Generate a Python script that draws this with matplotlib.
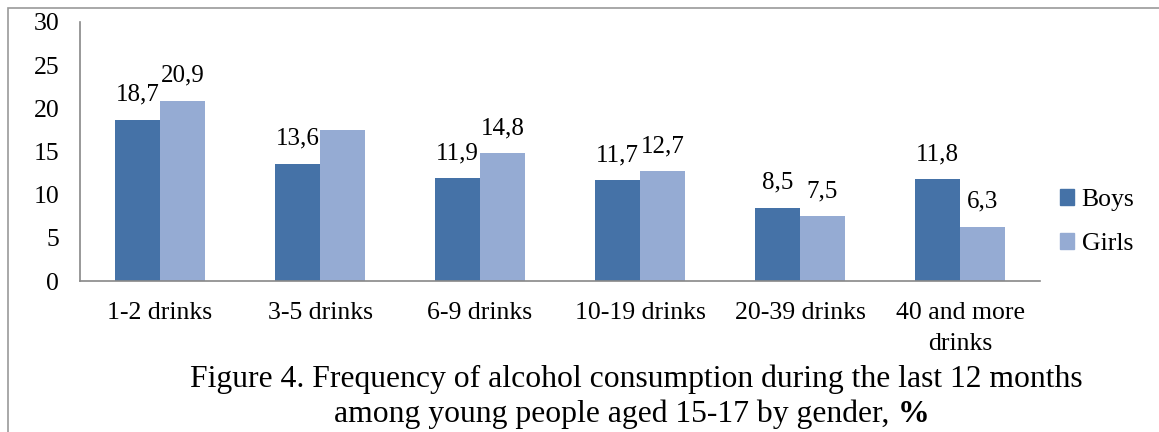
import matplotlib
matplotlib.use('Agg')
import matplotlib.pyplot as plt
import matplotlib.patches as mpatches
import numpy as np

categories = ['1-2 drinks', '3-5 drinks', '6-9 drinks', '10-19 drinks', '20-39 drinks', '40 and more\ndrinks']
boys = [18.7, 13.6, 11.9, 11.7, 8.5, 11.8]
girls = [20.9, 17.5, 14.8, 12.7, 7.5, 6.3]
# girls value for 3-5 drinks carries no label
girls_labels = ['20,9', None, '14,8', '12,7', '7,5', '6,3']
boys_labels = ['18,7', '13,6', '11,9', '11,7', '8,5', '11,8']

BOYS_COLOR = '#4572a7'
GIRLS_COLOR = '#95abd3'
W, H = 1159, 432

plt.rcParams['font.family'] = ['Liberation Serif', 'DejaVu Serif']

fig = plt.figure(figsize=(W / 100, H / 100), dpi=100)
ax = fig.add_axes([80 / W, 1 - 281 / H, 960 / W, 259 / H])

x = np.arange(len(categories))
w = 0.28
b1 = ax.bar(x - w / 2, boys, w, color=BOYS_COLOR, label='Boys')
b2 = ax.bar(x + w / 2, girls, w, color=GIRLS_COLOR, label='Girls')

for bars, labels in [(b1, boys_labels), (b2, girls_labels)]:
    for rect, lab in zip(bars, labels):
        if lab is None:
            continue
        ax.annotate(lab, (rect.get_x() + rect.get_width() / 2, rect.get_height()),
                    xytext=(0, 10), textcoords='offset points', ha='center', va='bottom', fontsize=18)

ax.set_xlim(-0.5, len(categories) - 0.5)
ax.set_ylim(0, 30)
ax.set_yticks(range(0, 31, 5))
ax.set_xticks(x)
ax.set_xticklabels(categories, fontsize=18.5, linespacing=1.55, va='top')
ax.tick_params(axis='y', length=0, labelsize=18.5, pad=15)
ax.tick_params(axis='x', length=0, pad=15)
for s in ['top', 'right']:
    ax.spines[s].set_visible(False)
for s in ['left', 'bottom']:
    ax.spines[s].set_color('#888888')
    ax.spines[s].set_linewidth(1.2)

fig.legend(handles=[mpatches.Patch(color=BOYS_COLOR, label='Boys'),
                    mpatches.Patch(color=GIRLS_COLOR, label='Girls')],
           loc='center left', bbox_to_anchor=(1047 / W, 1 - 222 / H),
           frameon=False, fontsize=18.5, handlelength=0.55, handleheight=0.55,
           handletextpad=0.3, labelspacing=0.85, borderpad=0)

# caption under the chart, last sign in bold
CAP_SIZE = 22.8
fig.text(636 / W, 1 - 387 / H, 'Figure 4. Frequency of alcohol consumption during the last 12 months',
         ha='center', va='baseline', fontsize=CAP_SIZE)
fig.canvas.draw()
r = fig.canvas.get_renderer()
part = fig.text(0, 0, 'among young people aged 15-17 by gender, ', fontsize=CAP_SIZE, va='baseline')
pct = fig.text(0, 0, '%', fontsize=CAP_SIZE, fontweight='bold', va='baseline')
w1 = part.get_window_extent(r).width
w2 = pct.get_window_extent(r).width
x0 = 632 - (w1 + w2) / 2
part.set_position((x0 / W, 1 - 422 / H))
pct.set_position(((x0 + w1) / W, 1 - 422 / H))

# thin frame around the figure (left and top edges show)
fig.patches.append(mpatches.Rectangle((8 / W, -0.1), 1.2, 1.1 - 8 / H,
                                      transform=fig.transFigure, fill=False,
                                      edgecolor='#999999', linewidth=1.2))

fig.savefig('out.png', dpi=100)
